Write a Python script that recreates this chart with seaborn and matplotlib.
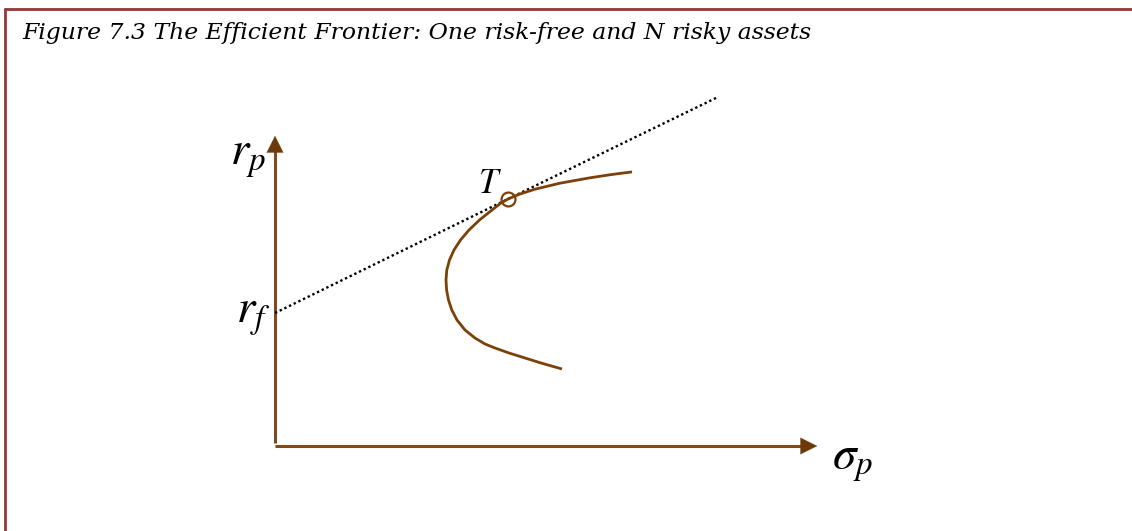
import numpy as np
import pandas as pd
import seaborn as sns
import matplotlib.pyplot as plt
from matplotlib.lines import Line2D

# efficient frontier (risky assets only)
frontier_sigma = [3.57, 3.36, 3.15, 2.85, 2.60, 2.45, 2.33, 2.26, 2.17, 2.045, 1.94, 1.855,
                  1.79, 1.745, 1.718, 1.71, 1.716, 1.735, 1.768, 1.82, 1.90, 2.00, 2.10,
                  2.20, 2.34, 2.50, 2.66, 2.87]
frontier_r = [2.711, 2.684, 2.652, 2.598, 2.538, 2.49, 2.44, 2.40, 2.33, 2.23, 2.13, 2.03,
              1.93, 1.83, 1.73, 1.63, 1.53, 1.43, 1.33, 1.23, 1.13, 1.05, 0.99,
              0.95, 0.90, 0.85, 0.80, 0.74]

# capital market line: risk-free point, tangency T, end of the line
cml_sigma = [0.0, 2.33, 4.43]
cml_r = [1.30, 2.44, 3.46]

tangency = (2.33, 2.44)
axis_top = 3.10
axis_right = 5.45

title = "Figure 7.3 The Efficient Frontier: One risk-free and N risky assets"

sns.set_style("white")
plt.rcParams["mathtext.fontset"] = "stix"
plt.rcParams["text.color"] = "black"

fig = plt.figure(figsize=(11.32, 5.31), dpi=100)
ax = fig.add_axes([0, 0, 1, 1])
ax.set_xlim(-2.75, 8.57)
ax.set_ylim(-0.88, 4.43)
ax.axis("off")

axis_col = "#7d4c1a"
head_col = "#6b3a08"
curve_col = "#7b4108"

# axes with arrow heads
ax.plot([0, 0], [0, axis_top - 0.12], color=axis_col, lw=2.2, solid_capstyle="butt")
ax.plot([0, axis_right - 0.12], [-0.03, -0.03], color=axis_col, lw=2.2, solid_capstyle="butt")
ax.annotate("", xy=(0, axis_top), xytext=(0, axis_top - 0.2),
            arrowprops=dict(arrowstyle="-|>", color=head_col, lw=0.1, mutation_scale=30))
ax.annotate("", xy=(axis_right, -0.03), xytext=(axis_right - 0.2, -0.03),
            arrowprops=dict(arrowstyle="-|>", color=head_col, lw=0.1, mutation_scale=30))

cml = pd.DataFrame({"sigma": cml_sigma, "r": cml_r})
sns.lineplot(data=cml, x="sigma", y="r", ax=ax, color="black", lw=1.7,
             linestyle=(0, (1, 1.2)), sort=False)

front = pd.DataFrame({"sigma": frontier_sigma, "r": frontier_r})
sns.lineplot(data=front, x="sigma", y="r", ax=ax, color=curve_col, lw=2.0, sort=False,
             solid_joinstyle="round", solid_capstyle="butt")

ax.plot(*tangency, marker="o", ms=10, mfc="none", mec=curve_col, mew=1.6)

ax.text(tangency[0] - 0.18, tangency[1] + 0.16, "$T$", fontsize=25, ha="center", va="center")
ax.text(-0.27, 2.86, "$r_p$", fontsize=34, ha="center", va="center")
ax.text(-0.22, 1.28, "$r_f$", fontsize=34, ha="center", va="center")
ax.text(axis_right + 0.12, -0.18, r"$\sigma_p$", fontsize=34, ha="left", va="center")

fig.text(22 / 1132, 1 - 33 / 531, title, fontsize=16.9, family="DejaVu Serif",
         style="italic", ha="left", va="center", color="black")

# page frame (top and left edges)
frame_col = "#953734"
fig.add_artist(Line2D([5 / 1132, 1.0], [1 - 9 / 531, 1 - 9 / 531], color=frame_col,
                      lw=2.0, transform=fig.transFigure))
fig.add_artist(Line2D([5 / 1132, 5 / 1132], [0, 1 - 9 / 531], color=frame_col,
                      lw=2.0, transform=fig.transFigure))

fig.savefig("out.png", dpi=100)
